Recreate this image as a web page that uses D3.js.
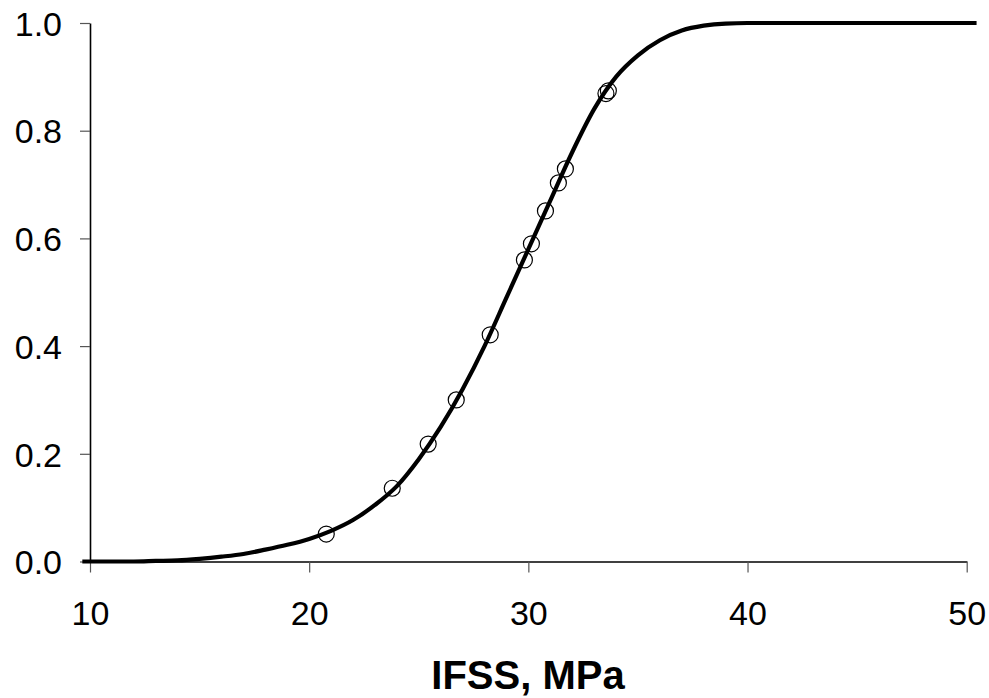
<!DOCTYPE html>
<html>
<head>
<meta charset="utf-8">
<script src="https://cdn.jsdelivr.net/npm/d3@7"></script>
<style>
  body { margin: 0; background: #fff; }
  svg text { font-family: Arial, "Liberation Sans", sans-serif; fill: #000; }
</style>
</head>
<body>
<div id="chart"></div>
<script>
// measured IFSS values (MPa) and their cumulative probability
const ifss = [20.78, 23.79, 25.43, 26.71, 28.26, 29.82, 30.14, 30.78, 31.37, 31.69, 33.54, 33.65];
const prob = [0.051, 0.136, 0.218, 0.300, 0.421, 0.560, 0.590, 0.651, 0.703, 0.729, 0.869, 0.874];

// fitted distribution curve
const fitX = [9.65, 10, 12, 13, 14, 15, 16, 17, 18, 19, 20, 21, 22, 23, 24, 25, 26, 27, 28, 29, 30,
              31, 32, 33, 34, 35, 36, 37, 38, 39, 40, 45, 50.45];
const fitY = [0, 0, 0, 0.001, 0.002, 0.005, 0.009, 0.014, 0.022, 0.031, 0.042, 0.057, 0.077, 0.105,
              0.14, 0.19, 0.25, 0.32, 0.40, 0.49, 0.58, 0.67, 0.76, 0.84, 0.90, 0.94, 0.968, 0.986,
              0.995, 0.999, 1.0, 1.0, 1.0];

const xTicks = [10, 20, 30, 40, 50];
const yTicks = [0, 0.2, 0.4, 0.6, 0.8, 1.0];

const width = 989, height = 698;
const svg = d3.select('#chart').append('svg')
    .attr('width', width)
    .attr('height', height);

const x = d3.scaleLinear().domain([10, 50]).range([90, 966.7]);
const y = d3.scaleLinear().domain([0, 1]).range([561.5, 23]);

// axes
const xAxis = svg.append('g')
    .attr('transform', 'translate(0,' + y(0) + ')')
    .call(d3.axisBottom(x).tickValues(xTicks).tickSize(11).tickSizeOuter(0).tickPadding(28));
const yAxis = svg.append('g')
    .attr('transform', 'translate(' + x(10) + ',0)')
    .call(d3.axisLeft(y).tickValues(yTicks).tickFormat(d3.format('.1f')).tickSize(10).tickSizeOuter(0).tickPadding(18));

[xAxis, yAxis].forEach(g => {
    g.select('.domain').attr('stroke', '#000').attr('stroke-width', 1.6);
    g.selectAll('.tick line').attr('stroke', '#555').attr('stroke-width', 1.2);
    g.selectAll('.tick text').style('font-size', '34px').attr('fill', '#000');
});
xAxis.selectAll('.tick text').attr('dy', '0.71em');
yAxis.selectAll('.tick text').attr('dy', '0.36em');

// fitted curve
const fit = fitX.map((d, i) => [d, fitY[i]]);
svg.append('path')
    .datum(fit)
    .attr('fill', 'none')
    .attr('stroke', '#000')
    .attr('stroke-width', 4.2)
    .attr('stroke-linejoin', 'round')
    .attr('d', d3.line().x(d => x(d[0])).y(d => y(d[1])).curve(d3.curveMonotoneX));

// data points
svg.selectAll('.pt').data(ifss).enter().append('circle')
    .attr('class', 'pt')
    .attr('cx', d => x(d))
    .attr('cy', (d, i) => y(prob[i]))
    .attr('r', 8)
    .attr('fill', 'none')
    .attr('stroke', '#000')
    .attr('stroke-width', 1.2);

// axis title
svg.append('text')
    .attr('x', 528)
    .attr('y', 689)
    .attr('text-anchor', 'middle')
    .style('font-size', '40px')
    .style('font-weight', 'bold')
    .text('IFSS, MPa');
</script>
</body>
</html>
